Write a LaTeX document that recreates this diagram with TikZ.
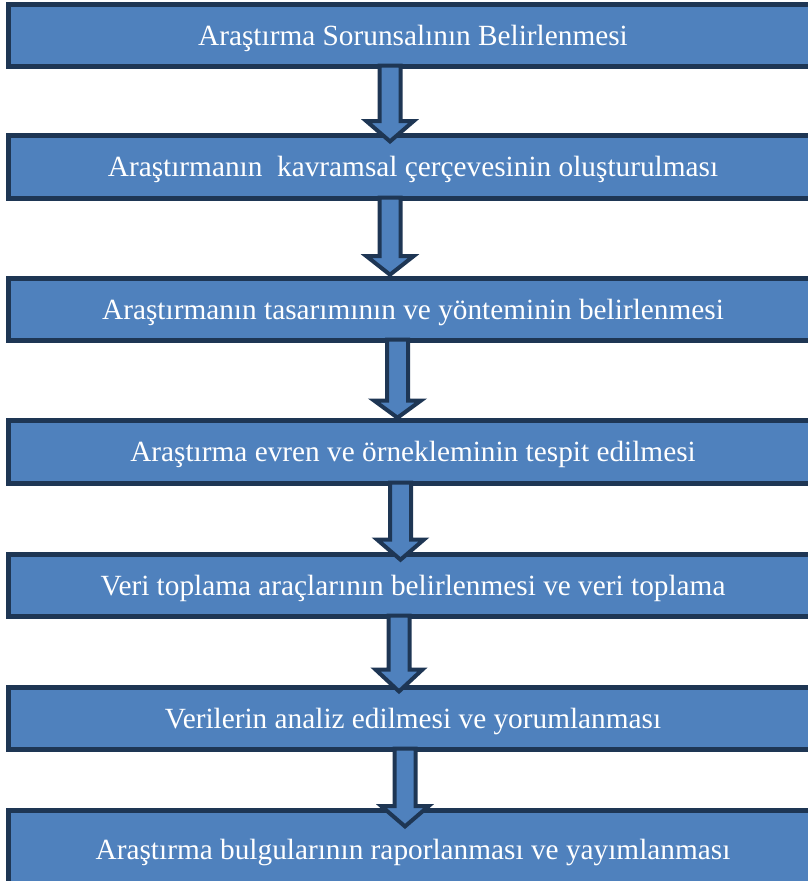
\documentclass[tikz,border=0pt]{standalone}
\usepackage{fontspec}
\setmainfont{Liberation Serif}
\usetikzlibrary{calc}
\definecolor{stepfill}{RGB}{79,129,189}
\definecolor{stepline}{RGB}{30,54,84}
\tikzset{
  stepbox/.style={draw=stepline, fill=stepfill, line width=5pt, rectangle,
    minimum width=809pt, inner sep=0pt, outer sep=0pt, text=white,
    font=\fontsize{29.3}{32}\selectfont, text height=19.4pt, text depth=0pt},
  blockarrow/.style={draw=stepline, fill=stepfill, line width=4pt, line join=miter, miter limit=10}
}
% block arrow from the bottom of one box down into the next
% #1 upper box, #2 lower box, #3 centre x, #4 head base and #5 tip, both above the lower box top
\newcommand{\flowarrow}[5]{%
  \draw[blockarrow] let \p1=(#1.south), \p2=(#2.north) in
    (#3-10.5,\y1+1) -- (#3-10.5,\y2+#4) -- (#3-23.5,\y2+#4) -- (#3,\y2+#5) --
    (#3+23.5,\y2+#4) -- (#3+10.5,\y2+#4) -- (#3+10.5,\y1+1) -- cycle;}
\begin{document}
\begin{tikzpicture}[x=1pt,y=1pt]
\useasboundingbox (0,0) rectangle (808,-881);
\node[stepbox, minimum height=62pt] (s1) at (413,-35.5) {Araştırma Sorunsalının Belirlenmesi};
\node[stepbox, minimum height=63pt] (s2) at (413,-167) {Araştırmanın\ \ kavramsal çerçevesinin oluşturulması};
\node[stepbox, minimum height=62pt] (s3) at (413,-309.5) {Araştırmanın tasarımının ve yönteminin belirlenmesi};
\node[stepbox, minimum height=63pt] (s4) at (413,-452) {Araştırma evren ve örnekleminin tespit edilmesi};
\node[stepbox, minimum height=62pt] (s5) at (413,-585.5) {Veri toplama araçlarının belirlenmesi ve veri toplama};
\node[stepbox, minimum height=62pt] (s6) at (413,-718.5) {Verilerin analiz edilmesi ve yorumlanması};
\node[stepbox, minimum height=79pt] (s7) at (413,-850) {Araştırma bulgularının raporlanması ve yayımlanması};
\flowarrow{s1}{s2}{390}{14.3}{-5.9}
\flowarrow{s2}{s3}{390}{22.3}{3.8}
\flowarrow{s3}{s4}{397.5}{20}{2.8}
\flowarrow{s4}{s5}{400.5}{15}{-5.2}
\flowarrow{s5}{s6}{399}{18}{-3.9}
\flowarrow{s6}{s7}{405}{4.3}{-15.9}
\end{tikzpicture}
\end{document}
